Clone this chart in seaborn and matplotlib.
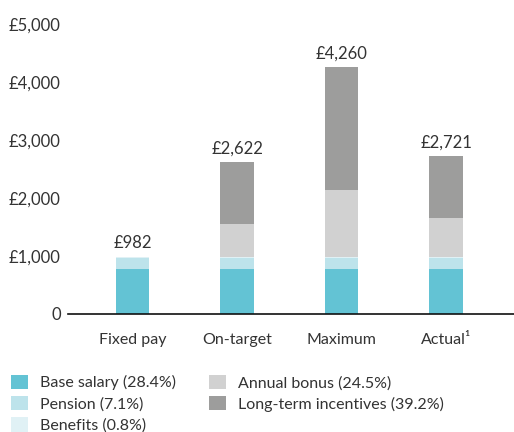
import matplotlib
matplotlib.use("Agg")
import matplotlib.pyplot as plt
from matplotlib.patches import Patch
import seaborn as sns
import pandas as pd

# Remuneration scenarios (£000)
scenarios = ["Fixed pay", "On-target", "Maximum", "Actual\u00b9"]
base_salary = [768, 768, 768, 768]
pension = [192, 192, 192, 192]
benefits = [22, 22, 22, 22]
annual_bonus = [0, 575, 1150, 673]
long_term = [0, 1065, 2128, 1066]
totals = [982, 2622, 4260, 2721]

components = ["Base salary", "Pension", "Benefits", "Annual bonus", "Long-term incentives"]
legend_labels = ["Base salary (28.4%)", "Pension (7.1%)", "Benefits (0.8%)",
                 "Annual bonus (24.5%)", "Long-term incentives (39.2%)"]
colors = ["#63c3d4", "#bde3eb", "#e0f1f5", "#d1d1d1", "#9d9d9c"]

sns.set_theme(style="white")
plt.rcParams["font.family"] = ["Lato", "DejaVu Sans"]
text_color = "#333333"

df = pd.DataFrame({
    "scenario": scenarios,
    "Base salary": base_salary,
    "Pension": pension,
    "Benefits": benefits,
    "Annual bonus": annual_bonus,
    "Long-term incentives": long_term,
})
cum = df[components].cumsum(axis=1)

fig = plt.figure(figsize=(5.14, 4.32), dpi=100)
ax = fig.add_axes([0.132, 0.274, 0.868, 0.67])

# Stack by layering cumulative totals, tallest first
for comp, col in reversed(list(zip(components, colors))):
    sns.barplot(x=df["scenario"], y=cum[comp], order=scenarios, color=col,
                width=0.32, saturation=1, ax=ax, linewidth=0)

for i, t in enumerate(totals):
    ax.annotate(f"£{t:,}", (i, t), xytext=(0, 4), textcoords="offset points",
                ha="center", va="bottom", fontsize=12, color=text_color)

ax.set_ylim(0, 5000)
ax.set_xlim(-0.62, 3.65)
yt = [0, 1000, 2000, 3000, 4000, 5000]
ax.set_yticks(yt)
ax.set_yticklabels(["0"] + [f"£{v:,}" for v in yt[1:]])
ax.set_xlabel("")
ax.set_ylabel("")
ax.tick_params(axis="y", length=0, pad=5, labelsize=12, labelcolor=text_color)
ax.tick_params(axis="x", length=0, pad=14, labelsize=11.5, labelcolor=text_color)
for s in ["top", "right", "left"]:
    ax.spines[s].set_visible(False)
ax.spines["bottom"].set_color("#111111")
ax.spines["bottom"].set_linewidth(1.2)

handles = [Patch(facecolor=c, edgecolor="none") for c in colors]
fig.legend(handles, legend_labels, loc="upper left", bbox_to_anchor=(0.021, 0.133),
           ncol=2, frameon=False, fontsize=11.5, handlelength=1.05, handleheight=1.05,
           handletextpad=0.75, labelspacing=0.33, columnspacing=2.1,
           borderaxespad=0, borderpad=0, labelcolor=text_color)

fig.savefig("out.png", dpi=100)
